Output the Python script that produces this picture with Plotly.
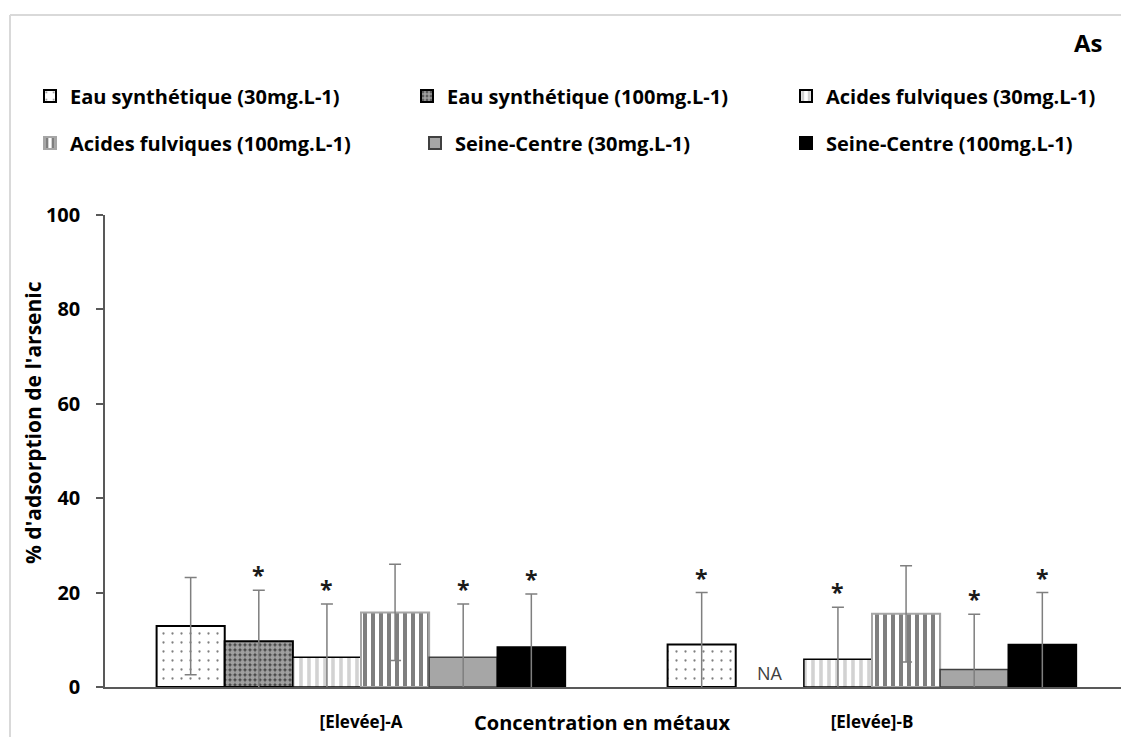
import plotly.graph_objects as go

categories = ["[Elevée]-A", "[Elevée]-B"]
series_names = [
    "Eau synthétique (30mg.L-1)",
    "Eau synthétique (100mg.L-1)",
    "Acides fulviques (30mg.L-1)",
    "Acides fulviques (100mg.L-1)",
    "Seine-Centre (30mg.L-1)",
    "Seine-Centre (100mg.L-1)",
]
eau30 = [12.9, 9.0]
eau100 = [9.7, None]
af30 = [6.3, 5.9]
af100 = [15.8, 15.5]
sc30 = [6.3, 3.7]
sc100 = [8.5, 9.0]

eau30_err = [10.3, 11.0]
eau100_err = [10.8, None]
af30_err = [11.3, 11.0]
af100_err = [10.2, 10.2]
sc30_err = [11.3, 11.7]
sc100_err = [11.2, 11.0]

# significance markers (*)
eau30_sig = [False, True]
eau100_sig = [True, False]
af30_sig = [True, True]
af100_sig = [False, False]
sc30_sig = [True, True]
sc100_sig = [True, True]

values = [eau30, eau100, af30, af100, sc30, sc100]
errors = [eau30_err, eau100_err, af30_err, af100_err, sc30_err, sc100_err]
sigs = [eau30_sig, eau100_sig, af30_sig, af100_sig, sc30_sig, sc100_sig]

styles = [
    dict(color="white", line=dict(color="black", width=2),
         pattern=dict(shape=".", fgcolor="black", bgcolor="white", size=9, solidity=0.05)),
    dict(color="white", line=dict(color="black", width=2),
         pattern=dict(shape=".", fgcolor="white", bgcolor="#404040", size=5, solidity=0.75)),
    dict(color="white", line=dict(color="black", width=1.5),
         pattern=dict(shape="|", fgcolor="#a6a6a6", bgcolor="white", size=8, solidity=0.45)),
    dict(color="white", line=dict(color="#a6a6a6", width=2),
         pattern=dict(shape="|", fgcolor="black", bgcolor="white", size=8, solidity=0.5)),
    dict(color="#a6a6a6", line=dict(color="#404040", width=1.5)),
    dict(color="black", line=dict(color="black", width=1.5)),
]

FONT = "Open Sans"
# Page has an 8px body margin: figure is sized to fit the window.
W, H = 1113, 729
L, R, T, B = 97, 0, 207, 50
plot_w = W - L - R
plot_h = H - T - B
unit_px = 511.0
x0 = -256.0 / unit_px
x_range = [x0, x0 + plot_w / unit_px]

def px_x(fx):
    return (fx - L) / plot_w

def px_y(fy):
    return (H - B - fy) / plot_h

legend_pos = [(47, 96), (424, 96), (803, 96), (47, 143), (432, 143), (803, 143)]
legend_keys = ["legend", "legend2", "legend3", "legend4", "legend5", "legend6"]

fig = go.Figure()
for i, (name, vals, errs, st) in enumerate(zip(series_names, values, errors, styles)):
    fig.add_trace(go.Bar(
        x=[0, 1], y=vals, name=name, marker=st, showlegend=True,
        error_y=dict(type="data", array=errs, color="#7f7f7f", thickness=1.5, width=6),
        legend=legend_keys[i],
    ))

n = len(series_names)
bw = 0.8 / n
annotations = []
for i in range(n):
    for c in range(len(categories)):
        v = values[i][c]
        if sigs[i][c] and v is not None:
            annotations.append(dict(
                x=c + (i - (n - 1) / 2) * bw, y=v + errors[i][c], xref="x", yref="y",
                text="<b>*</b>", showarrow=False, yanchor="middle", yshift=15,
                font=dict(family=FONT, size=23, color="#1a1a1a")))
        if v is None:
            annotations.append(dict(
                x=c + (i - (n - 1) / 2) * bw, y=3.0, xref="x", yref="y",
                text="NA", showarrow=False, font=dict(family=FONT, size=18, color="#404040")))

annotations += [
    dict(text="<b>As</b>", x=px_x(1088 - 8), y=px_y(42 - 8), xref="paper", yref="paper",
         xanchor="center", yanchor="middle", showarrow=False,
         font=dict(family=FONT, size=24, color="black")),
    dict(text="<b>% d'adsorption de l'arsenic</b>", x=px_x(33 - 8), y=px_y(423 - 8),
         xref="paper", yref="paper", textangle=-90, showarrow=False,
         xanchor="center", yanchor="middle",
         font=dict(family=FONT, size=21, color="black")),
    dict(text="<b>Concentration en métaux</b>", x=px_x(602 - 8), y=px_y(722 - 8),
         xref="paper", yref="paper", showarrow=False, xanchor="center", yanchor="middle",
         font=dict(family=FONT, size=20, color="black")),
]

legends = {}
for k, (mx, my) in zip(legend_keys, legend_pos):
    legends[k] = dict(orientation="h", x=px_x(mx - 17 - 8), y=px_y(my - 8),
                      xanchor="left", yanchor="middle", itemsizing="constant",
                      bgcolor="rgba(0,0,0,0)", visible=True,
                      font=dict(family=FONT, size=20, color="black", weight="bold"))

fig.update_layout(
    width=W, height=H,
    margin=dict(l=L, r=R, t=T, b=B),
    paper_bgcolor="white", plot_bgcolor="white",
    showlegend=True,
    barmode="group", bargap=0.2, bargroupgap=0,
    font=dict(family=FONT, color="black"),
    xaxis=dict(range=x_range, tickmode="array", tickvals=[0, 1], ticktext=categories,
               showline=True, linecolor="#595959", linewidth=1.5, ticks="", showgrid=False,
               zeroline=False, ticklabelstandoff=19,
               tickfont=dict(family=FONT, size=17, color="black", weight="bold")),
    yaxis=dict(range=[0, 100], tickvals=[0, 20, 40, 60, 80, 100], showline=True,
               linecolor="#595959", linewidth=1.5, ticks="outside", ticklen=7, tickcolor="#595959",
               tickwidth=1.5, showgrid=False, zeroline=False, ticklabelstandoff=12,
               tickfont=dict(family=FONT, size=20, color="black", weight="bold")),
    annotations=annotations,
    shapes=[
        dict(type="line", xref="paper", yref="paper", x0=px_x(10 - 8), x1=1.01,
             y0=px_y(15 - 8), y1=px_y(15 - 8), line=dict(color="#d9d9d9", width=2)),
        dict(type="line", xref="paper", yref="paper", x0=px_x(10 - 8), x1=px_x(10 - 8),
             y0=px_y(15 - 8), y1=-0.2, line=dict(color="#d9d9d9", width=2)),
    ],
    **legends,
)

fig.write_html("out.html")
